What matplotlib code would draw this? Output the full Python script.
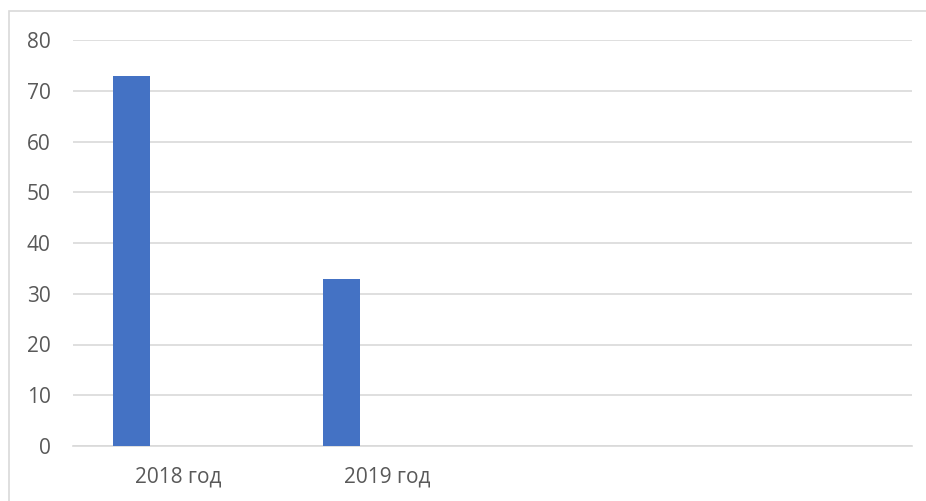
import matplotlib
matplotlib.use("Agg")
import matplotlib.pyplot as plt
from matplotlib.patches import Rectangle

# Category slots and values (last two slots are empty)
categories = ["2018 год", "2019 год", "", ""]
values = [73, 33, 0, 0]
y_ticks = [0, 10, 20, 30, 40, 50, 60, 70, 80]

plt.rcParams['font.family'] = ['Open Sans', 'DejaVu Sans']

W, H = 926, 501
fig = plt.figure(figsize=(W / 100, H / 100), dpi=100)

# Outer chart frame
fig.patches.append(Rectangle((9 / W, -0.05), 1.1, 1 - 11 / H + 0.05,
                             transform=fig.transFigure, fill=False,
                             edgecolor="#d9d9d9", linewidth=1.2))

ax = fig.add_axes([73 / W, 1 - 446 / H, (912 - 73) / W, (446 - 40) / H])

x = range(len(categories))
offset = -0.222
width = 0.176
ax.bar([i + offset for i in x], values, width=width, color="#4472C4", zorder=3)

ax.set_xlim(-0.5, len(categories) - 0.5)
ax.set_ylim(0, 80)
ax.set_yticks(y_ticks)
ax.set_xticks(list(x))
ax.set_xticklabels(categories)

ax.grid(axis="y", color="#d9d9d9", linewidth=1.2, zorder=0)
for side in ["top", "right", "left"]:
    ax.spines[side].set_visible(False)
ax.spines["bottom"].set_color("#d9d9d9")
ax.spines["bottom"].set_linewidth(1.2)

ax.tick_params(axis="both", length=0, labelsize=15, labelcolor="#595959")
ax.tick_params(axis="y", pad=16)
ax.tick_params(axis="x", pad=15)

fig.savefig("out.png", dpi=100)
